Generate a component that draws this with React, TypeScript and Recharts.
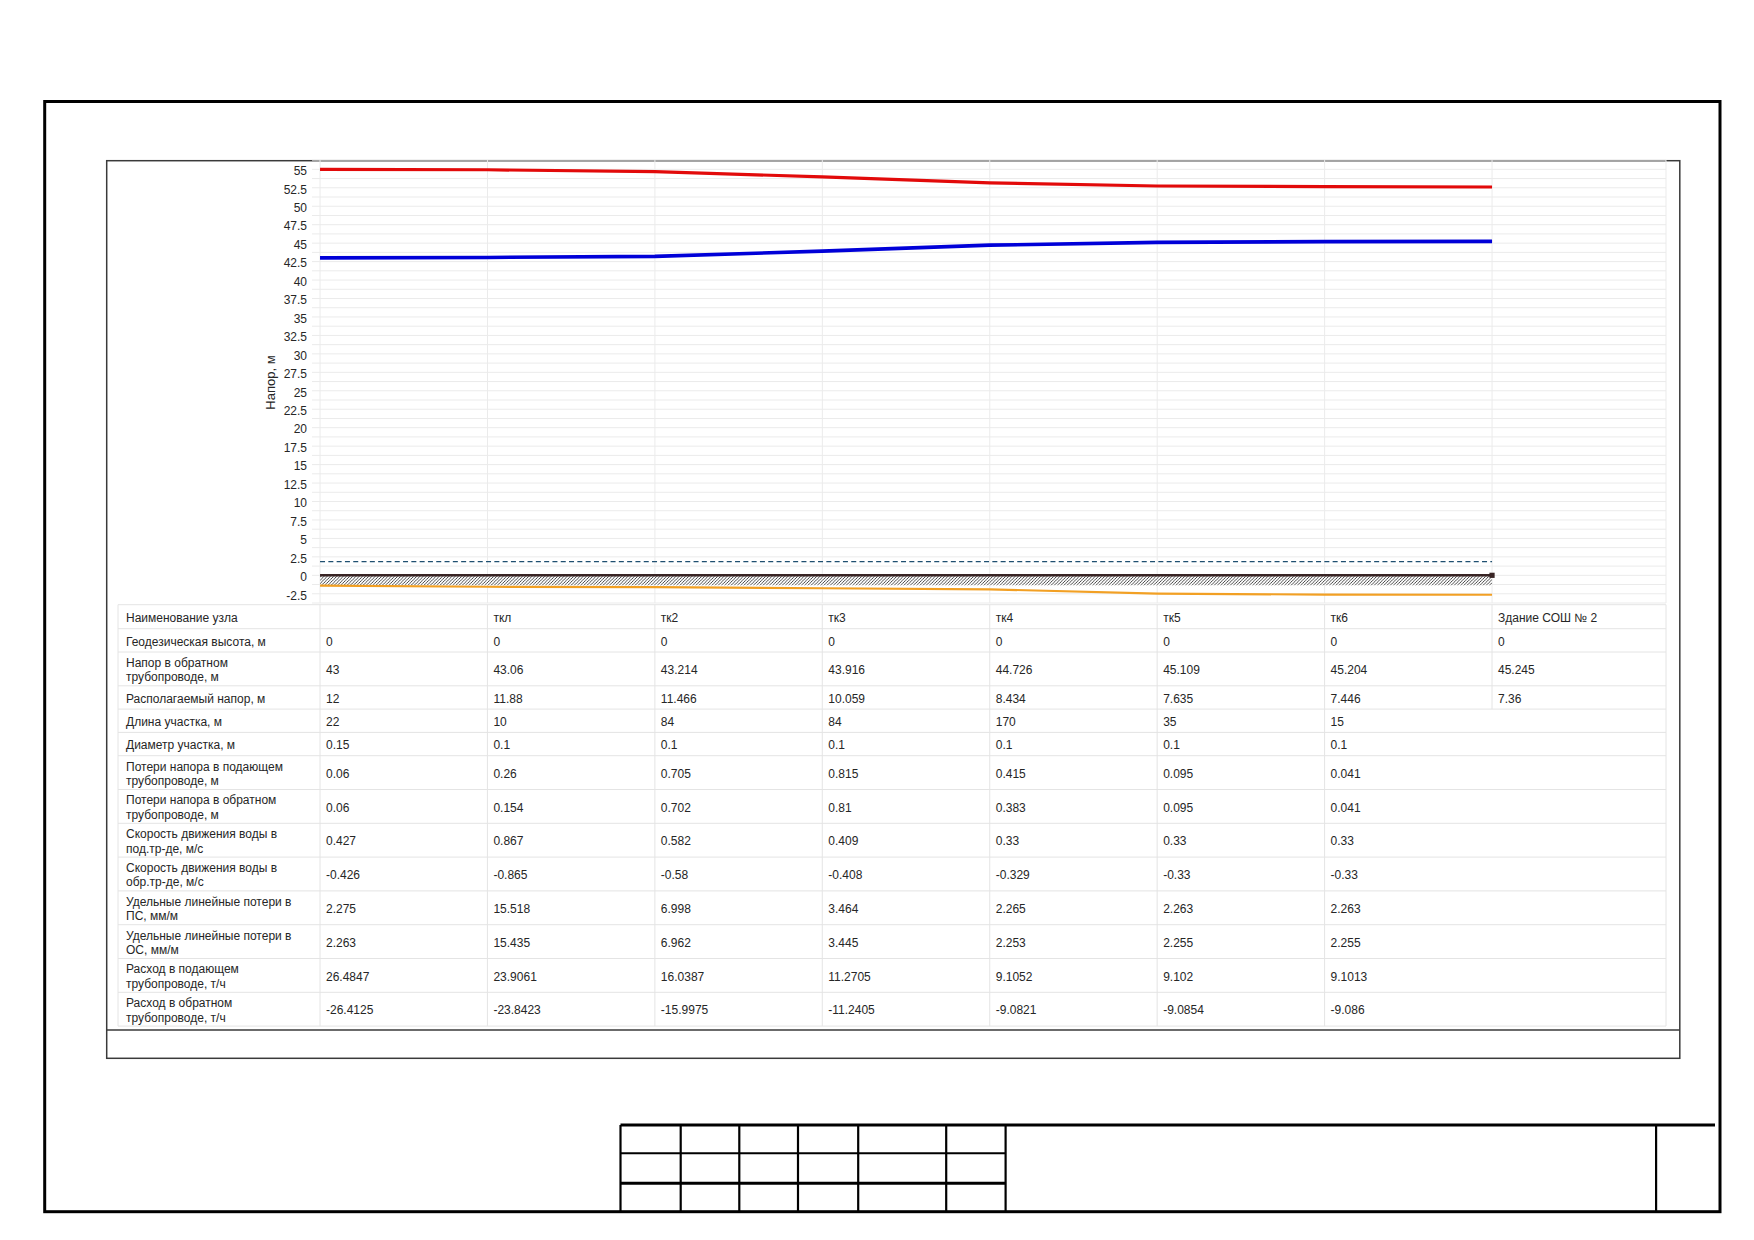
import React from 'react';
import { ComposedChart, Line, Area, XAxis, YAxis, CartesianGrid } from 'recharts';

// nodes along the route (x categories)
const NODES = ['', 'ткл', 'тк2', 'тк3', 'тк4', 'тк5', 'тк6', 'Здание СОШ № 2'];
const X_INDEX = [0, 1, 2, 3, 4, 5, 6, 7];

// chart series, m
const SUPPLY_HEAD = [55, 54.94, 54.68, 53.975, 53.16, 52.744, 52.65, 52.605];
const RETURN_HEAD = [43, 43.06, 43.214, 43.916, 44.726, 45.109, 45.204, 45.245];
const GEO_HEIGHT = [0, 0, 0, 0, 0, 0, 0, 0];
const STATIC_LINE = [1.85, 1.85, 1.85, 1.85, 1.85, 1.85, 1.85, 1.85];
const GROUND_BOTTOM = [-1.35, -1.35, -1.35, -1.35, -1.35, -1.35, -1.35, -1.35];
const PIPE_LEVEL = [-1.39, -1.55, -1.59, -1.75, -1.9, -2.48, -2.61, -2.63];

const Y_TICKS = [-2.5, 0, 2.5, 5, 7.5, 10, 12.5, 15, 17.5, 20, 22.5, 25, 27.5, 30, 32.5, 35, 37.5, 40, 42.5, 45, 47.5, 50, 52.5, 55];
const Y_DOMAIN = [-3.75, 56.25];
const X_DOMAIN = [-0.048, 8.039];
const Y_GRID = Array.from({ length: 49 }, (_, k) => Y_DOMAIN[0] + k * 1.25);

// table rows
const AVAILABLE_HEAD = [12, 11.88, 11.466, 10.059, 8.434, 7.635, 7.446, 7.36];
const SECTION_LENGTH = [22, 10, 84, 84, 170, 35, 15];
const SECTION_DIAM = [0.15, 0.1, 0.1, 0.1, 0.1, 0.1, 0.1];
const LOSS_SUPPLY = [0.06, 0.26, 0.705, 0.815, 0.415, 0.095, 0.041];
const LOSS_RETURN = [0.06, 0.154, 0.702, 0.81, 0.383, 0.095, 0.041];
const SPEED_SUPPLY = [0.427, 0.867, 0.582, 0.409, 0.33, 0.33, 0.33];
const SPEED_RETURN = [-0.426, -0.865, -0.58, -0.408, -0.329, -0.33, -0.33];
const SPEC_LOSS_SUPPLY = [2.275, 15.518, 6.998, 3.464, 2.265, 2.263, 2.263];
const SPEC_LOSS_RETURN = [2.263, 15.435, 6.962, 3.445, 2.253, 2.255, 2.255];
const FLOW_SUPPLY = [26.4847, 23.9061, 16.0387, 11.2705, 9.1052, 9.102, 9.1013];
const FLOW_RETURN = [-26.4125, -23.8423, -15.9975, -11.2405, -9.0821, -9.0854, -9.086];

const TABLE_ROWS: { label: string; values: (string | number)[] }[] = [
  { label: 'Наименование узла', values: NODES },
  { label: 'Геодезическая высота, м', values: GEO_HEIGHT },
  { label: 'Напор в обратном\nтрубопроводе, м', values: RETURN_HEAD },
  { label: 'Располагаемый напор, м', values: AVAILABLE_HEAD },
  { label: 'Длина участка, м', values: SECTION_LENGTH },
  { label: 'Диаметр участка, м', values: SECTION_DIAM },
  { label: 'Потери напора в подающем\nтрубопроводе, м', values: LOSS_SUPPLY },
  { label: 'Потери напора в обратном\nтрубопроводе, м', values: LOSS_RETURN },
  { label: 'Скорость движения воды в\nпод.тр-де, м/с', values: SPEED_SUPPLY },
  { label: 'Скорость движения воды в\nобр.тр-де, м/с', values: SPEED_RETURN },
  { label: 'Удельные линейные потери в\nПС, мм/м', values: SPEC_LOSS_SUPPLY },
  { label: 'Удельные линейные потери в\nОС, мм/м', values: SPEC_LOSS_RETURN },
  { label: 'Расход в подающем\nтрубопроводе, т/ч', values: FLOW_SUPPLY },
  { label: 'Расход в обратном\nтрубопроводе, т/ч', values: FLOW_RETURN },
];

const FONT = '"Liberation Sans", Arial, sans-serif';
const TEXT = '#262626';

// layout
const CHART_LEFT = 200;
const CHART_TOP = 150;
const PLOT_LEFT = 312;
const STEP = 167.43;
const FIRST_X = 320;
const TABLE_LEFT = 118;
const TABLE_RIGHT = 1666;
const TABLE_TOP = 604.7;
const COL_X = X_INDEX.map((k) => FIRST_X + k * STEP);

const rowHeight = (i: number) => (i === 0 ? 24 : TABLE_ROWS[i].label.includes('\n') ? 33.8 : 23.3);
const ROW_Y: number[] = [TABLE_TOP];
TABLE_ROWS.forEach((_, i) => ROW_Y.push(ROW_Y[i] + rowHeight(i)));

const data = X_INDEX.map((i) => ({
  i,
  supply: SUPPLY_HEAD[i],
  ret: RETURN_HEAD[i],
  geo: GEO_HEIGHT[i],
  stat: STATIC_LINE[i],
  ground: [GROUND_BOTTOM[i], GEO_HEIGHT[i]],
  pipe: PIPE_LEVEL[i],
}));

function EndSquare(p: any) {
  if (p.index !== X_INDEX.length - 1) return <g key={`g${p.index}`} />;
  return <rect key="end" x={p.cx - 2.6} y={p.cy - 2.6} width={5.2} height={5.2} fill="#382424" />;
}

function YTick(p: any) {
  return (
    <text
      x={p.x}
      y={p.y + 1.5}
      dy="0.355em"
      textAnchor="end"
      fontSize={12}
      fill={TEXT}
      fontFamily={FONT}
    >
      {p.payload.value}
    </text>
  );
}

function Frames() {
  const tb = [620.5, 680.7, 739.3, 798, 858.2, 946.2, 1005.6];
  const lastFull = TABLE_ROWS.filter((r) => r.values.length === 8).length;
  return (
    <svg width={1754} height={1240} style={{ position: 'absolute', left: 0, top: 0 }}>
      {/* table grid */}
      {ROW_Y.map((y, k) => (
        <line key={`h${k}`} x1={TABLE_LEFT} x2={TABLE_RIGHT} y1={y} y2={y} stroke="#e4e4e4" strokeWidth={1} />
      ))}
      {[TABLE_LEFT, ...COL_X.slice(0, 7), TABLE_RIGHT].map((x, k) => (
        <line key={`v${k}`} x1={x} x2={x} y1={TABLE_TOP} y2={ROW_Y[ROW_Y.length - 1]} stroke="#e4e4e4" strokeWidth={1} />
      ))}
      <line x1={COL_X[7]} x2={COL_X[7]} y1={TABLE_TOP} y2={ROW_Y[lastFull]} stroke="#e4e4e4" strokeWidth={1} />
      {/* inner box */}
      <rect x={106.7} y={160.7} width={1573.1} height={897.6} fill="none" stroke="#3a3a3a" strokeWidth={1.5} />
      <line x1={106.7} x2={1679.8} y1={1030} y2={1030} stroke="#3a3a3a" strokeWidth={1.5} />
      {/* outer frame */}
      <rect x={44.7} y={101.5} width={1675.3} height={1110.2} fill="none" stroke="#000" strokeWidth={3} />
      {/* title block */}
      <line x1={620.5} x2={1715} y1={1125} y2={1125} stroke="#000" strokeWidth={3} />
      {tb.map((x, k) => (
        <line key={`t${k}`} x1={x} x2={x} y1={1125} y2={1211.7} stroke="#000" strokeWidth={2.2} />
      ))}
      <line x1={1656.1} x2={1656.1} y1={1125} y2={1211.7} stroke="#000" strokeWidth={2.2} />
      <line x1={620.5} x2={1005.6} y1={1153.3} y2={1153.3} stroke="#000" strokeWidth={2} />
      <line x1={620.5} x2={1005.6} y1={1183.3} y2={1183.3} stroke="#000" strokeWidth={3} />
    </svg>
  );
}

function Table() {
  const cells: React.ReactNode[] = [];
  TABLE_ROWS.forEach((row, r) => {
    const top = ROW_Y[r] + 1.5;
    const h = ROW_Y[r + 1] - ROW_Y[r];
    const cellStyle = (left: number, pad: number): React.CSSProperties => ({
      position: 'absolute',
      left: left + pad,
      top,
      height: h,
      display: 'flex',
      alignItems: 'center',
      whiteSpace: 'pre',
      lineHeight: '14.5px',
      fontSize: 12,
      fontFamily: FONT,
      color: TEXT,
    });
    cells.push(
      <div key={`l${r}`} style={cellStyle(TABLE_LEFT, 8)}>
        {row.label}
      </div>
    );
    row.values.forEach((v, c) => {
      cells.push(
        <div key={`c${r}-${c}`} style={cellStyle(COL_X[c], 6)}>
          {String(v)}
        </div>
      );
    });
  });
  return <>{cells}</>;
}

export default function App() {
  return (
    <div style={{ position: 'absolute', left: 0, top: 0, width: 1754, height: 1240, background: '#fff', overflow: 'hidden' }}>
      <Frames />
      <div style={{ position: 'absolute', left: CHART_LEFT, top: CHART_TOP }}>
        <ComposedChart
          width={1480}
          height={470}
          data={data}
          margin={{ top: 10.1, right: 14, bottom: 17, left: 0 }}
        >
          <defs>
            <pattern id="hatch" patternUnits="userSpaceOnUse" width={3.2} height={3.2}>
              <rect width={3.2} height={3.2} fill="#fff" />
              <path d="M-0.8,0.8 L0.8,-0.8 M0,3.2 L3.2,0 M2.4,4 L4,2.4" stroke="#1c1c1c" strokeWidth={0.8} />
            </pattern>
          </defs>
          <CartesianGrid
            stroke="#ebebeb"
            horizontalValues={Y_GRID}
            verticalValues={[X_DOMAIN[0], ...X_INDEX, X_DOMAIN[1]]}
          />
          <XAxis type="number" dataKey="i" domain={X_DOMAIN} allowDataOverflow hide />
          <YAxis
            type="number"
            domain={Y_DOMAIN}
            allowDataOverflow
            ticks={Y_TICKS}
            interval={0}
            width={PLOT_LEFT - CHART_LEFT}
            tickSize={0}
            tickMargin={5}
            axisLine={false}
            tickLine={false}
            tick={YTick}
            label={{
              content: () => (
                <text
                  x={70.4}
                  y={232.5}
                  transform="rotate(-90 70.4 232.5)"
                  textAnchor="middle"
                  dominantBaseline="central"
                  fontSize={13}
                  fill={TEXT}
                  fontFamily={FONT}
                >
                  Напор, м
                </text>
              ),
            }}
          />
          <Area dataKey="ground" type="linear" stroke="none" fill="url(#hatch)" fillOpacity={1} isAnimationActive={false} activeDot={false} />
          <Line dataKey="pipe" type="linear" stroke="#f2a024" strokeWidth={2.2} dot={false} activeDot={false} isAnimationActive={false} />
          <Line dataKey="geo" type="linear" stroke="#382424" strokeWidth={2.4} dot={EndSquare} activeDot={false} isAnimationActive={false} />
          <Line dataKey="stat" type="linear" stroke="#1f4f70" strokeWidth={1.1} strokeDasharray="5 3.3" dot={false} activeDot={false} isAnimationActive={false} />
          <Line dataKey="ret" type="linear" stroke="#0000d8" strokeWidth={3.6} dot={false} activeDot={false} isAnimationActive={false} />
          <Line dataKey="supply" type="linear" stroke="#e20a0a" strokeWidth={3.2} dot={false} activeDot={false} isAnimationActive={false} />
        </ComposedChart>
      </div>
      <Table />
    </div>
  );
}
